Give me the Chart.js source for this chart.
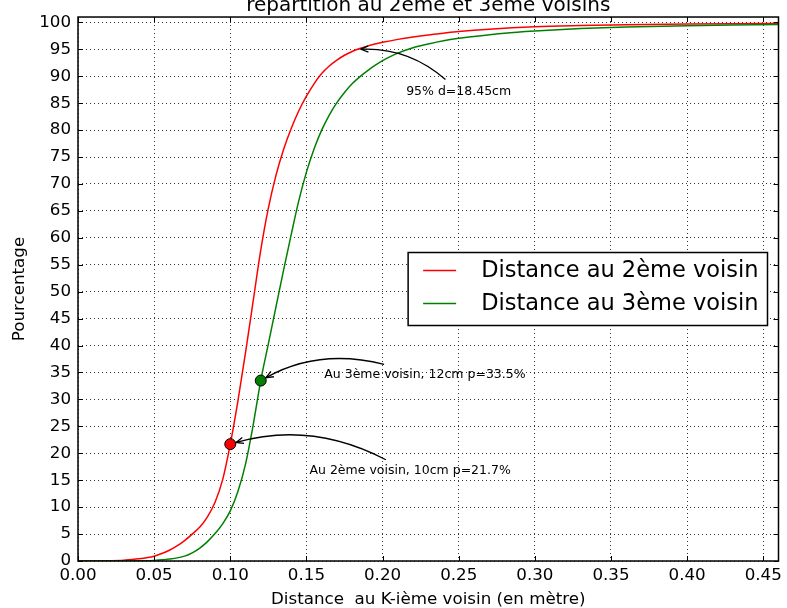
<!DOCTYPE html>
<html>
<head>
<meta charset="utf-8">
<script src="https://cdn.jsdelivr.net/npm/chart.js@4.4.0/dist/chart.umd.min.js"></script>
<style>
  html, body { margin: 0; padding: 0; background: #fff; }
  #wrap { width: 787px; height: 608px; }
</style>
</head>
<body>
<div id="wrap"><canvas id="chart" width="787" height="608"></canvas></div>
<script>
// distance to the k-th neighbour (m) and cumulative percentage
const dist2 = [0, 0.01, 0.02, 0.03, 0.04, 0.05, 0.055, 0.06, 0.065, 0.07, 0.075, 0.08, 0.085, 0.09, 0.095, 0.10, 0.105, 0.11, 0.115, 0.12, 0.125, 0.13, 0.135, 0.14, 0.145, 0.15, 0.155, 0.16, 0.165, 0.17, 0.175, 0.18, 0.185, 0.19, 0.195, 0.20, 0.21, 0.22, 0.23, 0.24, 0.25, 0.27, 0.30, 0.33, 0.36, 0.40, 0.43, 0.46];
const pct2 = [0, 0, 0.05, 0.15, 0.4, 0.9, 1.4, 2.0, 2.8, 3.8, 5.0, 6.3, 8.2, 10.9, 15.1, 21.7, 29.7, 38.7, 48.2, 57.7, 65.5, 71.6, 76.4, 80.3, 83.6, 86.3, 88.6, 90.5, 91.9, 93.0, 93.9, 94.6, 95.15, 95.6, 95.98, 96.3, 96.85, 97.3, 97.68, 98.0, 98.3, 98.75, 99.2, 99.42, 99.57, 99.7, 99.76, 99.8];

const dist3 = [0, 0.03, 0.04, 0.05, 0.06, 0.07, 0.075, 0.08, 0.085, 0.09, 0.095, 0.10, 0.105, 0.11, 0.115, 0.12, 0.125, 0.13, 0.135, 0.14, 0.145, 0.15, 0.155, 0.16, 0.165, 0.17, 0.175, 0.18, 0.185, 0.19, 0.195, 0.20, 0.205, 0.21, 0.22, 0.23, 0.24, 0.25, 0.26, 0.28, 0.30, 0.33, 0.36, 0.40, 0.43, 0.46];
const pct3 = [0, 0, 0.03, 0.1, 0.35, 0.9, 1.5, 2.4, 3.6, 5.1, 6.9, 9.3, 12.9, 18.0, 25.2, 33.5, 40.3, 47.2, 54.0, 60.6, 66.9, 72.2, 76.5, 80.0, 82.8, 85.1, 87.0, 88.6, 89.9, 91.0, 92.0, 92.9, 93.65, 94.3, 95.3, 96.0, 96.6, 97.05, 97.4, 98.0, 98.4, 98.85, 99.15, 99.4, 99.5, 99.6];

const markX = [0.10, 0.12];
const markY = [21.7, 33.5];

const seriesLabels = ["Distance au 2ème voisin", "Distance au 3ème voisin"];
const seriesColors = ["#ff0000", "#008000"];

const xTickValues = [0, 0.05, 0.10, 0.15, 0.20, 0.25, 0.30, 0.35, 0.40, 0.45];
const yTickValues = [0, 5, 10, 15, 20, 25, 30, 35, 40, 45, 50, 55, 60, 65, 70, 75, 80, 85, 90, 95, 100];

const titleText = "répartition au 2ème et 3ème voisins";
const xTitle = "Distance  au K-ième voisin (en mètre)";
const yTitle = "Pourcentage";

// annotation text anchor, arrow start, arrow target (data units)
const notes = [
  { text: "95% d=18.45cm", at: [0.2155, 87.2], from: [0.2413, 89.4], to: [0.1845, 95], shrink: 2 },
  { text: "Au 3ème voisin, 12cm p=33.5%", at: [0.1617, 34.5], from: [0.201, 36.5], to: [0.12, 33.5], shrink: 6 },
  { text: "Au 2ème voisin, 10cm p=21.7%", at: [0.152, 16.8], from: [0.2022, 18.8], to: [0.10, 21.7], shrink: 6 }
];

const FONT = "'DejaVu Sans', sans-serif";

const framePlugin = {
  id: "frame",
  afterDatasetsDraw(chart) {
    const { ctx, chartArea: a, scales } = chart;
    const xs = scales.x, ys = scales.y;
    ctx.save();

    // arrows
    ctx.strokeStyle = "#000";
    ctx.lineWidth = 1.3;
    notes.forEach(n => {
      const x1 = xs.getPixelForValue(n.from[0]), y1 = ys.getPixelForValue(n.from[1]);
      let x2 = xs.getPixelForValue(n.to[0]), y2 = ys.getPixelForValue(n.to[1]);
      const dx = x2 - x1, dy = y2 - y1;
      const rad = 0.2;
      const cx = (x1 + x2) / 2 - rad * dy, cy = (y1 + y2) / 2 + rad * dx;
      // pull the tip back toward the control point
      let tx = x2 - cx, ty = y2 - cy;
      const tl = Math.hypot(tx, ty);
      tx /= tl; ty /= tl;
      x2 -= tx * n.shrink; y2 -= ty * n.shrink;
      ctx.beginPath();
      ctx.moveTo(x1, y1);
      ctx.quadraticCurveTo(cx, cy, x2, y2);
      ctx.stroke();
      const ang = Math.atan2(ty, tx), hl = 8, spread = 0.4;
      ctx.beginPath();
      ctx.moveTo(x2 - hl * Math.cos(ang - spread), y2 - hl * Math.sin(ang - spread));
      ctx.lineTo(x2, y2);
      ctx.lineTo(x2 - hl * Math.cos(ang + spread), y2 - hl * Math.sin(ang + spread));
      ctx.stroke();
    });

    ctx.fillStyle = "#000";
    ctx.font = "12.5px " + FONT;
    ctx.textAlign = "left";
    ctx.textBaseline = "middle";
    notes.forEach(n => {
      ctx.fillText(n.text, xs.getPixelForValue(n.at[0]), ys.getPixelForValue(n.at[1]));
    });

    // inward ticks on all four sides
    ctx.lineWidth = 1;
    const tl = 5;
    xs.ticks.forEach(t => {
      const px = Math.round(xs.getPixelForValue(t.value)) + 0.5;
      ctx.beginPath();
      ctx.moveTo(px, a.bottom); ctx.lineTo(px, a.bottom - tl);
      ctx.moveTo(px, a.top); ctx.lineTo(px, a.top + tl);
      ctx.stroke();
    });
    ys.ticks.forEach(t => {
      const py = Math.round(ys.getPixelForValue(t.value)) + 0.5;
      ctx.beginPath();
      ctx.moveTo(a.left, py); ctx.lineTo(a.left + tl, py);
      ctx.moveTo(a.right, py); ctx.lineTo(a.right - tl, py);
      ctx.stroke();
    });

    // frame
    ctx.lineWidth = 1.5;
    ctx.strokeRect(a.left, a.top, a.right - a.left, a.bottom - a.top);
    ctx.restore();
  },
  afterDraw(chart) {
    const { ctx, chartArea: a } = chart;
    ctx.save();
    ctx.fillStyle = "#000";
    ctx.textAlign = "center";
    ctx.textBaseline = "alphabetic";
    ctx.font = "20px " + FONT;
    ctx.fillText(titleText, (a.left + a.right) / 2, 11);

    ctx.font = "16.7px " + FONT;
    ctx.textBaseline = "middle";
    ctx.fillText(xTitle, (a.left + a.right) / 2, 600);
    ctx.save();
    ctx.translate(20, (a.top + a.bottom) / 2);
    ctx.rotate(-Math.PI / 2);
    ctx.fillText(yTitle, 0, 0);
    ctx.restore();

    // legend, centre right
    ctx.font = "22.5px " + FONT;
    const textW = Math.max(...seriesLabels.map(s => ctx.measureText(s).width));
    const padL = 15, lineLen = 33, gap = 25, padR = 9, rowH = 33;
    const w = padL + lineLen + gap + textW + padR;
    const h = rowH * seriesLabels.length + 7;
    const right = a.right - 11;
    const left = right - w;
    const top = (a.top + a.bottom) / 2 - h / 2;
    ctx.fillStyle = "#fff";
    ctx.fillRect(left, top, w, h);
    ctx.strokeStyle = "#000";
    ctx.lineWidth = 1.5;
    ctx.strokeRect(left, top, w, h);
    ctx.textAlign = "left";
    seriesLabels.forEach((s, i) => {
      const cy = top + 18 + i * rowH;
      ctx.strokeStyle = seriesColors[i];
      ctx.lineWidth = 1.5;
      ctx.beginPath();
      ctx.moveTo(left + padL, cy);
      ctx.lineTo(left + padL + lineLen, cy);
      ctx.stroke();
      ctx.fillStyle = "#000";
      ctx.fillText(s, left + padL + lineLen + gap, cy + 1);
    });
    ctx.restore();
  }
};

const gridOpts = { color: "#000", lineWidth: 0.8, drawTicks: false };
const tickFont = { family: "DejaVu Sans", size: 16.7 };

new Chart(document.getElementById("chart"), {
  type: "line",
  data: {
    datasets: [
      {
        label: seriesLabels[0],
        data: dist2.map((x, i) => ({ x, y: pct2[i] })),
        borderColor: seriesColors[0],
        borderWidth: 1.5,
        pointRadius: 0,
        cubicInterpolationMode: "monotone",
        order: 2
      },
      {
        label: seriesLabels[1],
        data: dist3.map((x, i) => ({ x, y: pct3[i] })),
        borderColor: seriesColors[1],
        borderWidth: 1.5,
        pointRadius: 0,
        cubicInterpolationMode: "monotone",
        order: 1
      },
      {
        type: "scatter",
        label: "points",
        data: markX.map((x, i) => ({ x, y: markY[i] })),
        backgroundColor: seriesColors,
        borderColor: "#000",
        borderWidth: 1,
        pointRadius: 5.5,
        order: 0
      }
    ]
  },
  options: {
    responsive: false,
    animation: false,
    devicePixelRatio: 1,
    layout: { padding: { top: 17, right: 7, left: 0, bottom: 0 } },
    plugins: { legend: { display: false }, tooltip: { enabled: false }, title: { display: false } },
    scales: {
      x: {
        type: "linear",
        min: 0,
        max: 0.46,
        afterBuildTicks: s => { s.ticks = xTickValues.map(v => ({ value: v })); },
        afterFit: s => { s.height = 47; },
        grid: gridOpts,
        border: { display: false, dash: [1, 3] },
        ticks: { color: "#000", font: tickFont, padding: 5, maxRotation: 0, callback: v => v.toFixed(2) }
      },
      y: {
        type: "linear",
        min: 0,
        max: 101,
        afterBuildTicks: s => { s.ticks = yTickValues.map(v => ({ value: v })); },
        afterFit: s => { s.width = 78; },
        grid: gridOpts,
        border: { display: false, dash: [1, 3] },
        ticks: { color: "#000", font: tickFont, padding: 7, callback: v => String(v) }
      }
    }
  },
  plugins: [framePlugin]
});
</script>
</body>
</html>
